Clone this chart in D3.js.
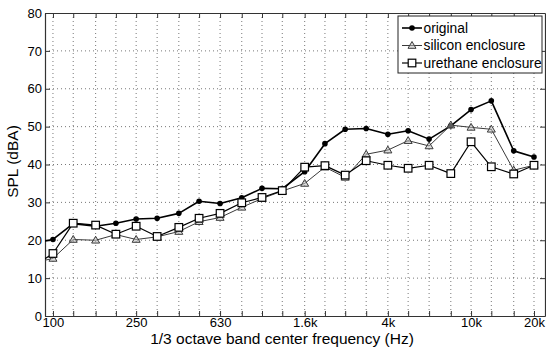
<!DOCTYPE html>
<html>
<head>
<meta charset="utf-8">
<script src="https://cdn.jsdelivr.net/npm/d3@7/dist/d3.min.js"></script>
<style>
  html, body { margin: 0; padding: 0; background: #fff; }
  svg { display: block; font-family: "Liberation Sans", Arial, Helvetica, sans-serif; }
</style>
</head>
<body>
<svg id="chart" width="546" height="353"></svg>
<script>
// 1/3 octave band centre frequencies (Hz); the 80 Hz band lies just left of the axis
const freqs = [80, 100, 125, 160, 200, 250, 315, 400, 500, 630, 800, 1000, 1250,
               1600, 2000, 2500, 3150, 4000, 5000, 6300, 8000, 10000, 12500, 16000, 20000];

const original = [19.3, 20.2, 24.4, 23.7, 24.5, 25.6, 25.8, 27.1, 30.3, 29.7, 31.2, 33.7, 33.6,
                  38.1, 45.5, 49.3, 49.5, 48.0, 48.9, 46.7, 50.2, 54.5, 56.8, 43.6, 42.0];
const silicon  = [14.0, 15.2, 20.2, 20.0, 21.5, 20.2, 20.9, 22.3, 24.9, 26.0, 28.7, 31.0, 33.0,
                  35.0, 39.3, 36.6, 42.7, 43.8, 46.3, 44.9, 50.4, 49.8, 49.3, 38.5, 39.8];
const urethane = [13.0, 16.5, 24.5, 24.0, 21.6, 23.7, 21.0, 23.4, 25.8, 27.1, 29.9, 31.3, 33.1,
                  39.3, 39.7, 37.2, 41.0, 39.8, 39.0, 39.8, 37.6, 46.0, 39.4, 37.5, 39.8];

const seriesNames = ["original", "silicon enclosure", "urethane enclosure"];

const tickFreqs = freqs.slice(1);
const tickLabels = {100: "100", 250: "250", 630: "630", 1600: "1.6k", 4000: "4k", 10000: "10k", 20000: "20k"};
const yTicks = [0, 10, 20, 30, 40, 50, 60, 70, 80];

const margin = {left: 45, right: 1, top: 13, bottom: 37};
const W = 546, H = 353;
const svg = d3.select("#chart");

const x = d3.scaleLog().domain([91.6, 22580]).range([margin.left, W - margin.right]);
const y = d3.scaleLinear().domain([0, 80]).range([H - margin.bottom, margin.top]);

const x0 = margin.left, x1 = W - margin.right, y0 = H - margin.bottom, y1 = margin.top;

svg.append("defs").append("clipPath").attr("id", "plotClip")
  .append("rect").attr("x", x0).attr("y", y1).attr("width", x1 - x0).attr("height", y0 - y1);

// dotted grid
const grid = svg.append("g").attr("stroke", "#555").attr("stroke-width", 0.8)
  .attr("stroke-dasharray", "1,3");
grid.selectAll("line.v").data(tickFreqs).join("line").attr("class", "v")
  .attr("x1", d => x(d)).attr("x2", d => x(d)).attr("y1", y1).attr("y2", y0);
grid.selectAll("line.h").data(yTicks.slice(1, -1)).join("line").attr("class", "h")
  .attr("x1", x0).attr("x2", x1).attr("y1", d => y(d)).attr("y2", d => y(d));

// axes (box with inward ticks on all four sides)
const axisColor = "#333";
const bottomAxis = d3.axisBottom(x).tickValues(tickFreqs).tickSizeInner(-5).tickSizeOuter(0)
  .tickPadding(2).tickFormat(d => tickLabels[d] || "");
const topAxis = d3.axisTop(x).tickValues(tickFreqs).tickSizeInner(-5).tickSizeOuter(0).tickFormat("");
const leftAxis = d3.axisLeft(y).tickValues(yTicks).tickSizeInner(-5).tickSizeOuter(0).tickPadding(3);
const rightAxis = d3.axisRight(y).tickValues(yTicks).tickSizeInner(-5).tickSizeOuter(0).tickFormat("");

function styleAxis(g) {
  g.selectAll("path").attr("stroke", axisColor).attr("stroke-width", 1.2);
  g.selectAll("line").attr("stroke", axisColor);
  g.selectAll("text").filter(function() { return this.textContent === ""; }).remove();
  g.selectAll("text").attr("fill", "#000").style("font-size", "13px")
    .style("font-family", "'Liberation Sans', Arial, sans-serif");
}
svg.append("g").attr("transform", `translate(0,${y0})`).call(bottomAxis).call(styleAxis);
svg.append("g").attr("transform", `translate(0,${y1})`).call(topAxis).call(styleAxis);
svg.append("g").attr("transform", `translate(${x0},0)`).call(leftAxis).call(styleAxis);
svg.append("g").attr("transform", `translate(${x1},0)`).call(rightAxis).call(styleAxis);

// axis titles
svg.append("text").attr("x", 282).attr("y", 344).attr("text-anchor", "middle")
  .style("font-size", "15.5px").text("1/3 octave band center frequency (Hz)");
svg.append("text").attr("transform", `translate(18,${(y0 + y1) / 2 - 3}) rotate(-90)`)
  .attr("text-anchor", "middle").style("font-size", "15.5px").text("SPL (dBA)");

// data series
const line = d3.line().x(d => x(d[0])).y(d => y(d[1]));
const plot = svg.append("g").attr("clip-path", "url(#plotClip)");

const styles = [
  {data: original, stroke: "#000", width: 1.6, marker: "dot"},
  {data: silicon,  stroke: "#3a3a3a", width: 1.0, marker: "tri"},
  {data: urethane, stroke: "#000", width: 1.2, marker: "sq"}
];

function drawMarker(g, type, cx, cy, stroke) {
  if (type === "dot") {
    g.append("circle").attr("cx", cx).attr("cy", cy).attr("r", 2.8).attr("fill", "#000");
  } else if (type === "tri") {
    const s = 4;
    g.append("path").attr("d", `M${cx},${cy - s}L${cx + s},${cy + s * 0.7}L${cx - s},${cy + s * 0.7}Z`)
      .attr("fill", "#bbb").attr("fill-opacity", 0.5).attr("stroke", stroke).attr("stroke-width", 1);
  } else {
    const s = 3.8;
    g.append("rect").attr("x", cx - s).attr("y", cy - s).attr("width", 2 * s).attr("height", 2 * s)
      .attr("fill", "#fff").attr("stroke", "#000").attr("stroke-width", 1.2);
  }
}

// draw lines first, then markers (urethane squares on top)
styles.forEach(s => {
  const pts = freqs.map((f, i) => [f, s.data[i]]);
  plot.append("path").datum(pts).attr("d", line).attr("fill", "none")
    .attr("stroke", s.stroke).attr("stroke-width", s.width).attr("stroke-linejoin", "round");
});
styles.forEach(s => {
  const g = plot.append("g");
  freqs.forEach((f, i) => drawMarker(g, s.marker, x(f), y(s.data[i]), s.stroke));
});

// legend
const lg = svg.append("g");
lg.append("rect").attr("x", 398).attr("y", 16).attr("width", 144).attr("height", 57)
  .attr("fill", "#fff").attr("stroke", "#222").attr("stroke-width", 1);
styles.forEach((s, i) => {
  const ly = 28 + i * 17.5;
  lg.append("line").attr("x1", 402).attr("x2", 422).attr("y1", ly).attr("y2", ly)
    .attr("stroke", s.stroke).attr("stroke-width", s.width);
  drawMarker(lg, s.marker, 412, ly, s.stroke);
  lg.append("text").attr("x", 423.5).attr("y", ly + 4.8).style("font-size", "13.8px").text(seriesNames[i]);
});
</script>
</body>
</html>
